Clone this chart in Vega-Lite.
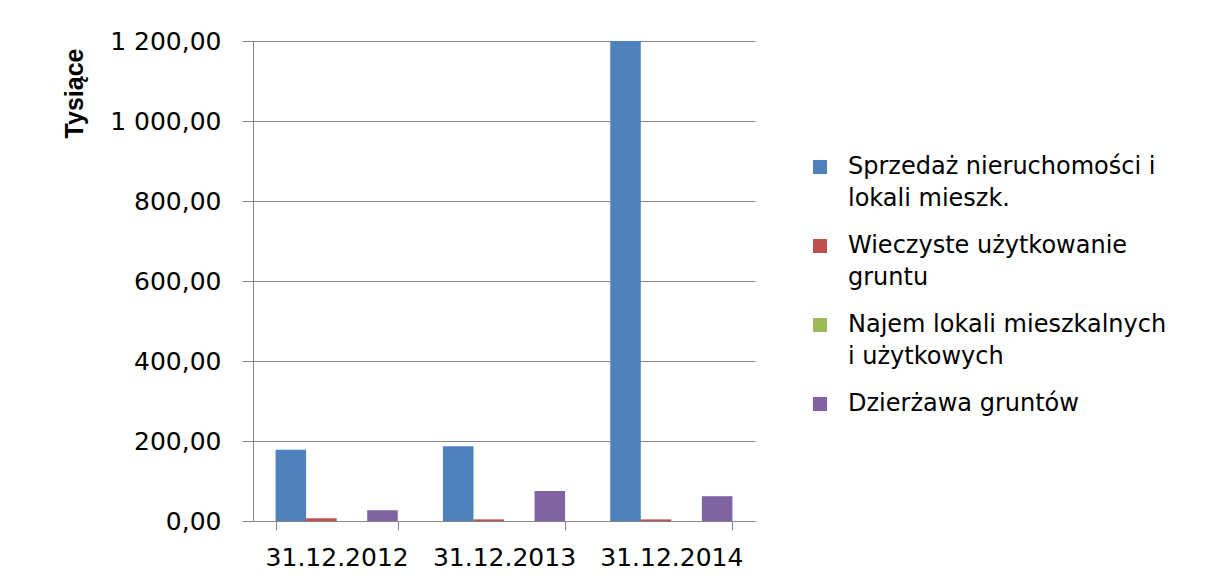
{
  "$schema": "https://vega.github.io/schema/vega-lite/v6.json",
  "width": 502,
  "height": 480,
  "autosize": {"type": "none"},
  "padding": {"left": 253, "top": 41, "right": 462, "bottom": 60},
  "background": "white",
  "config": {
    "locale": {"number": {"decimal": ",", "thousands": " ", "grouping": [3], "currency": ["", ""]}},
    "view": {"stroke": null},
    "font": "DejaVu Sans",
    "style": {"guide-label": {"lineHeight": 32}}
  },
  "data": {
    "values": [
      {"date": "31.12.2012", "series": "Sprzedaż nieruchomości i lokali mieszk.", "value": 178},
      {"date": "31.12.2012", "series": "Wieczyste użytkowanie gruntu", "value": 7},
      {"date": "31.12.2012", "series": "Najem lokali mieszkalnych i użytkowych", "value": 0},
      {"date": "31.12.2012", "series": "Dzierżawa gruntów", "value": 27},
      {"date": "31.12.2013", "series": "Sprzedaż nieruchomości i lokali mieszk.", "value": 187},
      {"date": "31.12.2013", "series": "Wieczyste użytkowanie gruntu", "value": 4},
      {"date": "31.12.2013", "series": "Najem lokali mieszkalnych i użytkowych", "value": 0},
      {"date": "31.12.2013", "series": "Dzierżawa gruntów", "value": 75},
      {"date": "31.12.2014", "series": "Sprzedaż nieruchomości i lokali mieszk.", "value": 1200},
      {"date": "31.12.2014", "series": "Wieczyste użytkowanie gruntu", "value": 4},
      {"date": "31.12.2014", "series": "Najem lokali mieszkalnych i użytkowych", "value": 0},
      {"date": "31.12.2014", "series": "Dzierżawa gruntów", "value": 62}
    ]
  },
  "mark": {"type": "bar", "clip": true},
  "encoding": {
    "x": {
      "field": "date", "type": "nominal", "sort": null,
      "scale": {"paddingInner": 0.27, "paddingOuter": 0.135},
      "axis": {
        "title": null, "labelAngle": 0, "tickBand": "extent", "tickSize": 9,
        "labelPadding": 15, "labelFontSize": 25, "labelColor": "#000000",
        "labelBaseline": "top", "domainColor": "#868686", "tickColor": "#868686", "grid": false
      }
    },
    "xOffset": {
      "field": "series", "type": "nominal", "sort": null,
      "scale": {"paddingInner": 0, "paddingOuter": 0}
    },
    "y": {
      "field": "value", "type": "quantitative",
      "scale": {"domain": [0, 1200]},
      "axis": {
        "title": "Tysiące", "titleFont": "Liberation Sans Narrow, Liberation Sans", "titleFontWeight": "bold",
        "titleFontSize": 25, "titleColor": "#000000", "titleAngle": -90,
        "titleX": -179, "titleY": 52, "titleAlign": "center", "titleBaseline": "middle",
        "format": ",.2f", "values": [0, 200, 400, 600, 800, 1000, 1200],
        "tickSize": 11, "labelPadding": 21, "labelFontSize": 25, "labelColor": "#000000",
        "gridColor": "#868686", "domainColor": "#868686", "tickColor": "#868686"
      }
    },
    "color": {
      "field": "series", "type": "nominal", "sort": null,
      "scale": {
        "domain": ["Sprzedaż nieruchomości i lokali mieszk.", "Wieczyste użytkowanie gruntu", "Najem lokali mieszkalnych i użytkowych", "Dzierżawa gruntów"],
        "range": ["#4F81BD", "#C0504D", "#9BBB59", "#8064A2"]
      },
      "legend": {
        "title": null, "orient": "none", "legendX": 555, "legendY": 121,
        "padding": 0, "rowPadding": 23,
        "symbolType": "M-1,-2H1V0H-1Z", "symbolSize": 196, "symbolStrokeWidth": 0,
        "labelFontSize": 24, "labelColor": "#000000", "labelBaseline": "alphabetic",
        "labelOffset": 16, "labelLimit": 400,
        "labelExpr": "datum.label == 'Sprzedaż nieruchomości i lokali mieszk.' ? ['Sprzedaż nieruchomości i', 'lokali mieszk.'] : datum.label == 'Wieczyste użytkowanie gruntu' ? ['Wieczyste użytkowanie', 'gruntu'] : datum.label == 'Najem lokali mieszkalnych i użytkowych' ? ['Najem lokali mieszkalnych', 'i użytkowych'] : datum.label"
      }
    }
  }
}
